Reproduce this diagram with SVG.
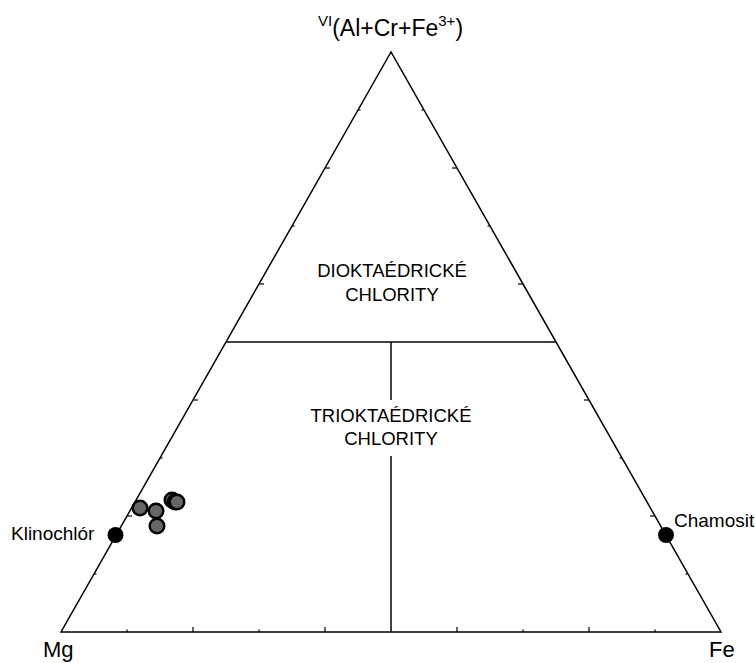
<svg xmlns="http://www.w3.org/2000/svg" width="755" height="663" viewBox="0 0 755 663">
<style>
.ln{stroke:#000;stroke-width:1.5;fill:none}
.tk{stroke:#000;stroke-width:1.2}
.t{font-family:"Liberation Sans",Arial,sans-serif;fill:#000}
.lbl{font-size:19px}
.ax{font-size:22px}
.reg{font-size:18.5px;text-anchor:middle}
.end{fill:#000}
.pt{fill:#666;stroke:#000;stroke-width:2.4}
</style>
<rect width="755" height="663" fill="#fff"/>
<g id="frame">
<polygon class="ln" points="391,52 61,632 721,632"/>
</g>
<g id="ticks">
<line class="tk" x1="127" y1="632" x2="127" y2="629.5"/>
<line class="tk" x1="193" y1="632" x2="193" y2="627"/>
<line class="tk" x1="259" y1="632" x2="259" y2="629.5"/>
<line class="tk" x1="325" y1="632" x2="325" y2="627"/>
<line class="tk" x1="457" y1="632" x2="457" y2="627"/>
<line class="tk" x1="523" y1="632" x2="523" y2="629.5"/>
<line class="tk" x1="589" y1="632" x2="589" y2="627"/>
<line class="tk" x1="655" y1="632" x2="655" y2="629.5"/>
<line class="tk" x1="94" y1="574" x2="96.5" y2="574"/>
<line class="tk" x1="127" y1="516" x2="132" y2="516"/>
<line class="tk" x1="160" y1="458" x2="162.5" y2="458"/>
<line class="tk" x1="193" y1="400" x2="198" y2="400"/>
<line class="tk" x1="259" y1="284" x2="264" y2="284"/>
<line class="tk" x1="292" y1="226" x2="294.5" y2="226"/>
<line class="tk" x1="325" y1="168" x2="330" y2="168"/>
<line class="tk" x1="358" y1="110" x2="360.5" y2="110"/>
<line class="tk" x1="688" y1="574" x2="685.5" y2="574"/>
<line class="tk" x1="655" y1="516" x2="650" y2="516"/>
<line class="tk" x1="622" y1="458" x2="619.5" y2="458"/>
<line class="tk" x1="589" y1="400" x2="584" y2="400"/>
<line class="tk" x1="523" y1="284" x2="518" y2="284"/>
<line class="tk" x1="490" y1="226" x2="487.5" y2="226"/>
<line class="tk" x1="457" y1="168" x2="452" y2="168"/>
<line class="tk" x1="424" y1="110" x2="421.5" y2="110"/>
</g>
<g id="connectors">
<line class="ln" x1="226" y1="342" x2="556" y2="342"/>
<line class="ln" x1="391" y1="342" x2="391" y2="400"/>
<line class="ln" x1="391" y1="456" x2="391" y2="632"/>
</g>
<g id="apex-label">
<text class="t" x="318" y="36" font-size="23"><tspan font-size="15" dy="-10">VI</tspan><tspan dy="10">(Al+Cr+Fe</tspan><tspan font-size="15" dy="-10">3+</tspan><tspan dy="10">)</tspan></text>
</g>
<g id="mg-label"><text class="t ax" x="43" y="657">Mg</text></g>
<g id="fe-label"><text class="t ax" x="709" y="657">Fe</text></g>
<g id="dioktaedricke">
<text class="t reg" x="392" y="277">DIOKTAÉDRICKÉ</text>
<text class="t reg" x="392" y="301">CHLORITY</text>
</g>
<g id="trioktaedricke">
<text class="t reg" x="391" y="422">TRIOKTAÉDRICKÉ</text>
<text class="t reg" x="391" y="445">CHLORITY</text>
</g>
<g id="klinochlor">
<circle class="end" cx="115.5" cy="535" r="8"/>
<text class="t lbl" x="11" y="540">Klinochlór</text>
</g>
<g id="chamosit">
<circle class="end" cx="666" cy="535" r="8"/>
<text class="t lbl" x="674" y="527">Chamosit</text>
</g>
<g id="samples">
<circle class="pt" cx="140" cy="508" r="7.3"/>
<circle class="pt" cx="156" cy="511" r="7.3"/>
<circle class="pt" cx="157" cy="526" r="7.3"/>
<circle class="pt" cx="172" cy="500" r="7.3"/>
<circle class="pt" cx="175" cy="502" r="7.3"/>
<circle class="pt" cx="177" cy="502" r="7.3"/>
</g>
</svg>
